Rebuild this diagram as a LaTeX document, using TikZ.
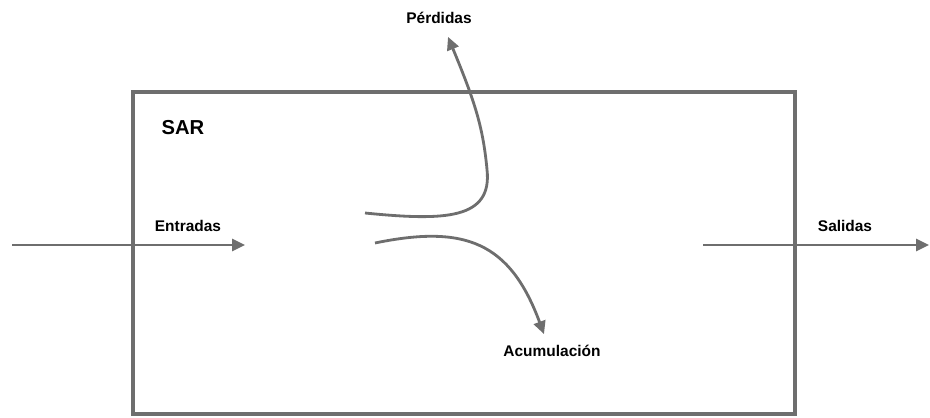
\documentclass[tikz,border=0pt]{standalone}
\usepackage{fontspec}
\setmainfont{Liberation Sans}
\usetikzlibrary{calc, positioning}
\usetikzlibrary{arrows.meta}

\definecolor{flujo}{HTML}{6E6E6E}
\tikzset{
  flecha/.style={-{Triangle[length=2.6mm, width=2.4mm]}, line width=1.6pt, flujo},
  rotulo/.style={font=\bfseries\fontsize{8.8}{10}\selectfont, inner sep=1pt},
}

\begin{document}
\begin{tikzpicture}
\useasboundingbox (0,0) rectangle (18.6,8.34);
% sistema
\draw[line width=2.8pt, flujo] (2.66,0.06) rectangle (15.9,6.5);
\node[font=\bfseries\fontsize{11.5}{13}\selectfont] (sar) at (3.66,5.78) {SAR};
% entradas y salidas
\coordinate (inA) at (0.24,3.44);
\coordinate (inB) at (4.9,3.44);
\coordinate (outA) at (14.06,3.44);
\coordinate (outB) at (18.58,3.44);
\draw[flecha] (inA) -- (inB);
\draw[flecha] (outA) -- (outB);
\node[rotulo] (entradas) at (3.76,3.82) {Entradas};
\node[rotulo] (salidas) at (16.9,3.82) {Salidas};
% perdidas y acumulacion
\node[rotulo] (perdidas) at (8.78,7.98) {Pérdidas};
\node[rotulo] (acum) at (11.04,1.32) {Acumulación};
\coordinate (p0) at (7.3,4.08);
\coordinate (a0) at (7.5,3.48);
\draw[flecha] (p0) .. controls (8.9,3.92) and (9.85,3.95) .. (9.74,4.95)
  .. controls (9.66,5.8) and (9.5,6.3) .. ($(perdidas.south)+(0.18,-0.22)$);
\draw[flecha] (a0) .. controls (9.3,3.85) and (10.2,3.5) .. ($(acum.north)+(-0.16,0.18)$);
\end{tikzpicture}
\end{document}
